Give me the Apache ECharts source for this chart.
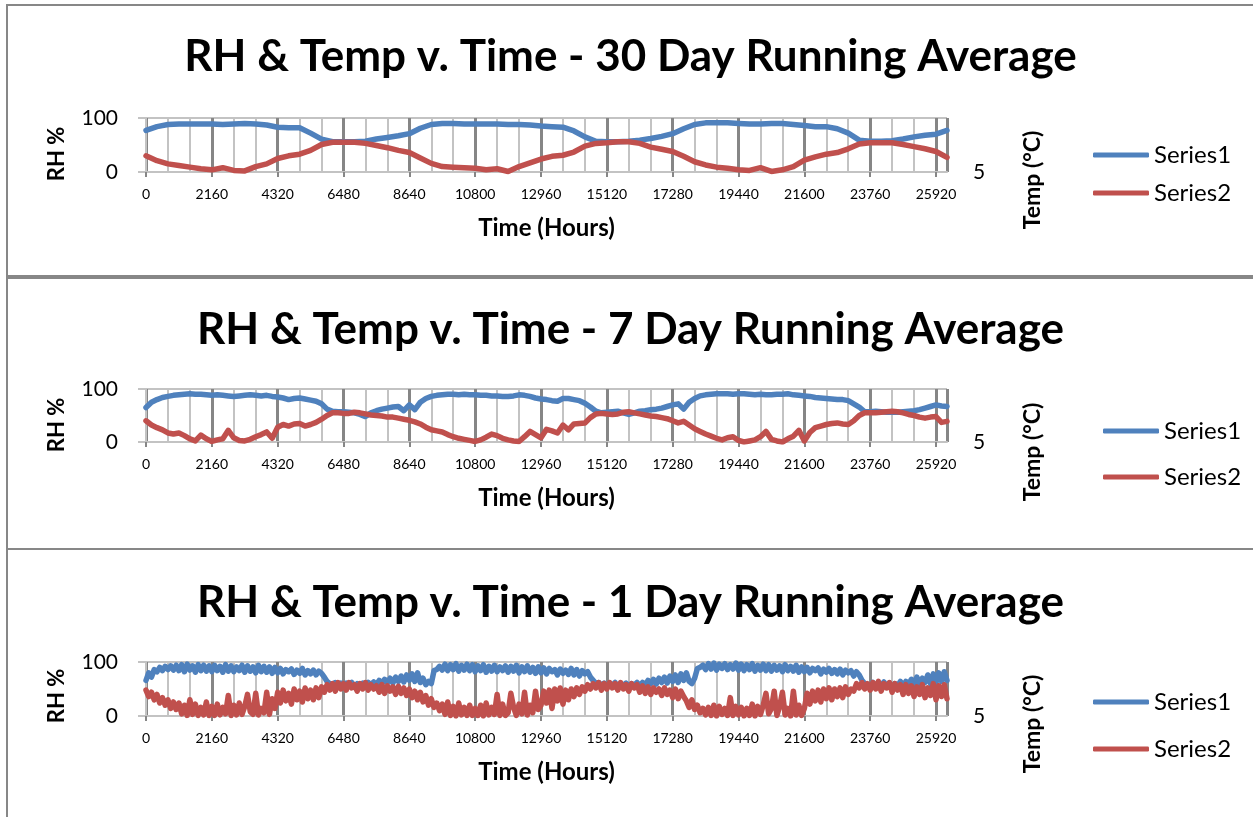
<!DOCTYPE html>
<html>
<head>
<meta charset="utf-8">
<script src="https://cdn.jsdelivr.net/npm/echarts@6/dist/echarts.min.js"></script>
<style>
html,body{margin:0;padding:0;background:#fff;width:1253px;height:817px;overflow:hidden;}
.panel{position:absolute;left:6px;width:1265px;height:269px;border:2px solid #878787;border-right:none;background:#fff;}
.chart{position:absolute;left:0;top:0;width:1245px;height:269px;}
</style>
</head>
<body>
<div class="panel" style="top:4px"><div id="c1" class="chart"></div></div>
<div class="panel" style="top:277px"><div id="c2" class="chart"></div></div>
<div class="panel" style="top:548px"><div id="c3" class="chart"></div></div>
<script>
// Hour axis ticks
const xTickInterval = 2160;
const xMax = 26280;
const seriesNames = ['Series1', 'Series2'];
const titles = [
  'RH & Temp v. Time - 30 Day Running Average',
  'RH & Temp v. Time - 7 Day Running Average',
  'RH & Temp v. Time - 1 Day Running Average'
];
// 30 day running average, one value every 360 hours
const step30 = 360;
const rh30 = [
  77,84,88,89,89,89,89,88,89,90,
  89,87,83,82,82,72,61,56,56,56,
  57,61,64,67,71,81,88,90,90,89,
  89,89,89,88,88,87,85,84,83,76,
  65,57,56,56,57,59,62,66,71,80,
  88,91,91,91,90,89,89,90,90,88,
  86,84,84,80,72,59,57,57,58,61,
  65,68,70,77
];
const temp30 = [
  30,21,15,12,9,6,4,8,3,2,
  10,15,25,30,33,40,51,55,55,55,
  53,49,45,40,36,26,16,10,9,8,
  7,4,6,1,10,17,24,29,31,37,
  48,53,54,56,56,53,46,42,38,29,
  19,13,9,7,4,3,8,1,4,10,
  22,28,33,36,43,52,54,54,54,51,
  47,43,38,27
];
// 7 day running average, one value every 180 hours
const step7 = 180;
const rh7 = [
  65,75,80,84,86,88,89,90,91,90,
  90,89,88,89,88,87,86,87,88,89,
  88,87,88,86,85,83,80,82,83,81,
  79,77,72,62,58,57,57,56,55,52,
  48,55,59,62,64,66,67,59,70,61,
  75,82,86,88,89,90,90,89,90,89,
  89,88,88,87,87,86,86,87,89,88,
  86,83,81,80,78,77,82,82,80,78,
  73,66,58,55,56,57,58,55,52,55,
  58,59,61,62,64,67,70,72,62,75,
  82,87,89,90,91,91,91,90,91,91,
  90,89,90,89,89,90,90,91,89,88,
  87,86,84,83,82,81,80,80,78,72,
  66,57,57,58,57,56,56,56,57,58,
  59,61,64,67,70,68,67
];
const temp7 = [
  40,32,27,23,17,15,17,12,6,2,
  13,6,1,4,6,22,8,3,2,5,
  10,14,19,7,28,33,30,34,35,30,
  33,37,43,50,55,55,54,54,56,55,
  53,51,50,49,47,47,45,43,41,38,
  34,28,23,21,19,14,10,7,5,3,
  1,4,9,15,12,7,4,2,1,10,
  20,14,8,24,21,17,32,23,34,35,
  36,46,53,54,53,52,53,56,57,55,
  53,51,49,48,46,44,40,36,39,32,
  25,20,15,11,7,4,8,10,3,0,
  2,4,10,20,5,2,0,6,11,22,
  2,18,27,30,33,35,36,34,33,40,
  50,55,55,55,56,57,58,57,55,52,
  50,47,45,47,48,37,39
];
// 1 day running average, one value every 90 hours (12 values = 1080 h per row)
const step1 = 90;
const rh1 = [
  66,80,72,86,82,90,84,92,86,93,85,94,
  84,95,82,96,85,93,81,95,84,94,83,93,
  82,94,84,92,81,95,83,93,82,91,84,94,
  81,93,83,91,80,94,82,92,81,91,79,90,
  80,88,78,86,82,87,77,85,79,88,76,84,
  78,85,76,83,79,72,64,60,58,62,57,61,
  56,61,57,62,55,60,57,61,56,62,58,63,
  58,66,60,68,62,70,61,72,64,74,63,76,
  66,78,64,80,62,70,58,64,60,84,86,92,
  85,96,84,95,86,97,83,94,85,96,84,95,
  82,93,84,95,81,92,83,94,82,91,84,93,
  81,92,83,94,80,91,82,93,81,90,79,91,
  80,89,78,88,82,86,76,87,79,85,77,88,
  76,86,74,84,78,82,72,66,60,62,57,61,
  55,60,57,62,54,59,56,61,55,60,57,62,
  56,62,58,66,60,68,59,70,62,72,61,74,
  64,76,62,78,66,80,64,60,70,88,90,94,
  86,97,87,98,85,96,88,97,86,95,87,98,
  85,96,84,95,86,97,83,94,85,96,84,95,
  83,94,85,93,82,95,84,92,83,94,81,91,
  82,90,80,88,84,89,78,87,81,88,79,86,
  78,87,76,85,80,84,74,82,76,66,60,58,
  56,62,54,60,57,63,55,61,53,60,56,64,
  56,64,58,68,57,72,60,70,62,76,60,78,
  62,80,64,82,66
];
const temp1 = [
  48,36,44,30,40,24,34,20,30,14,26,12,
  24,4,20,1,30,3,22,1,16,2,26,1,
  18,1,22,2,16,4,38,1,20,2,24,3,
  18,40,8,3,42,2,14,6,44,3,32,14,
  44,24,48,28,42,22,50,30,46,26,52,32,
  48,30,52,34,54,44,58,48,60,46,62,50,
  60,48,62,52,58,46,60,50,62,48,58,50,
  56,44,58,42,56,46,54,40,55,42,52,38,
  50,34,46,30,44,26,38,20,32,16,24,10,
  22,3,26,1,18,0,24,2,16,1,20,1,
  14,1,20,0,24,2,16,3,40,1,22,1,
  6,42,16,1,22,4,44,2,20,6,46,12,
  20,46,24,48,14,50,28,52,22,48,30,50,
  36,52,40,54,46,58,50,60,52,62,48,60,
  50,62,52,60,48,62,50,58,46,60,52,58,
  44,56,42,54,40,52,44,50,38,52,40,48,
  34,50,32,46,36,28,16,30,12,20,6,14,
  2,16,1,20,0,18,3,14,1,34,1,18,
  2,16,0,14,1,22,0,18,3,20,42,4,
  14,46,1,18,44,2,14,0,46,2,20,1,
  14,42,22,46,28,48,26,50,32,52,30,50,
  36,52,34,54,40,50,46,60,52,62,50,60,
  48,62,50,64,46,60,52,62,44,60,48,58,
  40,58,42,56,36,54,40,58,34,52,38,60,
  30,56,36,58,32
];

const FONT = 'Lato';
const BLUE = '#4F81BD';
const RED = '#C0504D';
const DARK = '#868686';
const LIGHT = '#c3c3c3';

function pairs(arr, step) { return arr.map((v, i) => [i * step, v]); }

function makeOption(cfg) {
  return {
    animation: false,
    title: {
      text: cfg.title, left: 'center', top: cfg.titleTop,
      textStyle: { fontFamily: FONT, fontWeight: 'bold', fontSize: 44, color: '#000' }
    },
    grid: { left: 138, top: cfg.gridTop, width: 801, height: cfg.gridH, containLabel: false },
    legend: {
      orient: 'vertical', left: cfg.legendLeft, top: cfg.legendTop, itemGap: cfg.legendGap,
      padding: 0, itemWidth: 56, itemHeight: 5, icon: 'roundRect', data: seriesNames,
      textStyle: { fontFamily: FONT, fontSize: 24, color: '#000', lineHeight: 26 }
    },
    xAxis: {
      type: 'value', min: 0, max: xMax, interval: xTickInterval,
      name: 'Time (Hours)', nameLocation: 'middle', nameGap: 44,
      nameTextStyle: { fontFamily: FONT, fontWeight: 'bold', fontSize: 24, color: '#000' },
      axisLine: { show: true, onZero: false, lineStyle: { color: LIGHT, width: 2 } },
      axisTick: { show: true, length: 5, lineStyle: { color: DARK, width: 2 } },
      axisLabel: { showMaxLabel: false, margin: 15, fontFamily: FONT, fontSize: 14, color: '#000',
        formatter: v => String(v) },
      splitLine: { show: true, lineStyle: { color: DARK, width: 3 } },
      minorTick: { show: false, splitNumber: 3 },
      minorSplitLine: { show: true, lineStyle: { color: LIGHT, width: 2 } }
    },
    yAxis: [
      {
        type: 'value', min: 0, max: 100, interval: 100,
        axisLine: { show: true, lineStyle: { color: LIGHT, width: 2 } },
        axisTick: { show: true, length: 8, lineStyle: { color: LIGHT, width: 2 } },
        axisLabel: { margin: 28, fontFamily: FONT, fontSize: 21, color: '#000' },
        splitLine: { show: true, lineStyle: { color: LIGHT, width: 2 } }
      },
      {
        type: 'value', position: 'right', min: 5, max: 105, interval: 100,
        axisLine: { show: false }, axisTick: { show: false }, splitLine: { show: false },
        axisLabel: { margin: 26, fontFamily: FONT, fontSize: 21, color: '#000',
          formatter: v => (v === 5 ? '5' : '') }
      }
    ],
    graphic: [
      { type: 'text', x: 49, y: cfg.rhY, rotation: Math.PI / 2,
        style: { text: 'RH %', fontFamily: FONT, fontWeight: 'bold', fontSize: 22, fill: '#000', align: 'center', verticalAlign: 'middle' } },
      { type: 'text', x: 1025, y: cfg.tempY, rotation: Math.PI / 2,
        style: { text: 'Temp (°C)', fontFamily: FONT, fontWeight: 'bold', fontSize: 23, fill: '#000', align: 'center', verticalAlign: 'middle' } }
    ],
    series: [
      { name: seriesNames[0], type: 'line', data: pairs(cfg.rh, cfg.step), showSymbol: false, symbol: 'none',
        itemStyle: { color: BLUE }, lineStyle: { color: BLUE, width: 5.5, cap: 'round', join: 'round' } },
      { name: seriesNames[1], type: 'line', data: pairs(cfg.temp, cfg.step), showSymbol: false, symbol: 'none',
        itemStyle: { color: RED }, lineStyle: { color: RED, width: 5.5, cap: 'round', join: 'round' } }
    ]
  };
}

const cfgs = [
  { id: 'c1', title: titles[0], rh: rh30, temp: temp30, step: step30, titleTop: 24, gridTop: 112, gridH: 54,
    legendLeft: 1085, legendTop: 136, legendGap: 12, rhY: 148, tempY: 174 },
  { id: 'c2', title: titles[1], rh: rh7, temp: temp7, step: step7, titleTop: 24, gridTop: 110, gridH: 53,
    legendLeft: 1095, legendTop: 139, legendGap: 20, rhY: 146, tempY: 173 },
  { id: 'c3', title: titles[2], rh: rh1, temp: temp1, step: step1, titleTop: 26, gridTop: 112, gridH: 54,
    legendLeft: 1085, legendTop: 139, legendGap: 21, rhY: 146, tempY: 174 }
];
cfgs.forEach(c => {
  const chart = echarts.init(document.getElementById(c.id), null, { renderer: 'canvas' });
  chart.setOption(makeOption(c));
});
</script>
</body>
</html>
